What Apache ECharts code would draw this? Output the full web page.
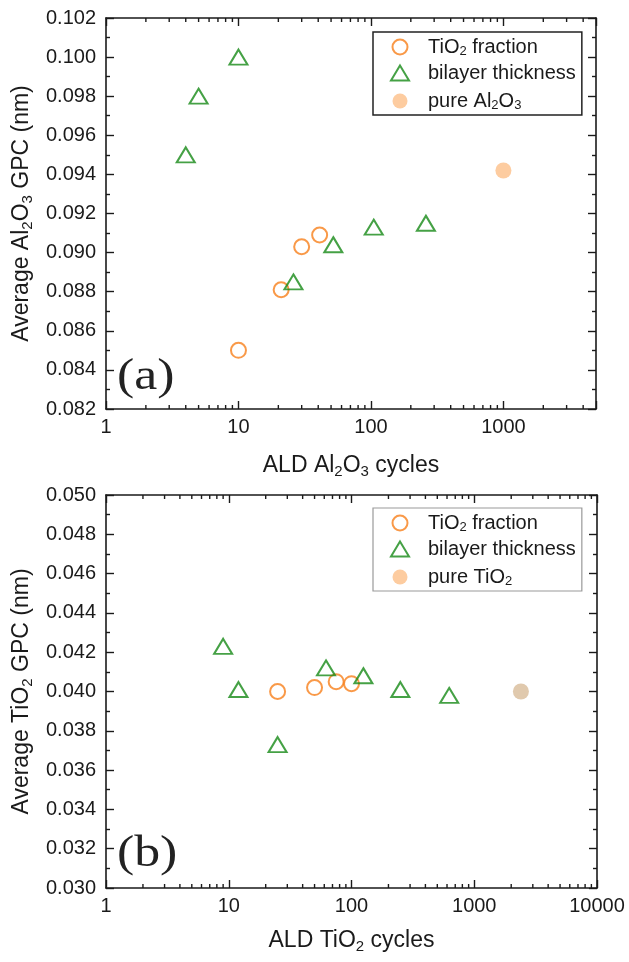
<!DOCTYPE html>
<html>
<head>
<meta charset="utf-8">
<script src="https://cdn.jsdelivr.net/npm/echarts@6/dist/echarts.min.js"></script>
<style>
  html, body { margin: 0; padding: 0; background: #fff; }
  #chart { width: 629px; height: 962px; }
</style>
</head>
<body>
<div id="chart"></div>
<script>
// Panel (a): average Al2O3 growth per cycle vs. number of ALD Al2O3 cycles
const alFracCycles = [10, 21, 30, 41];
const alFracGpc = [0.0850, 0.0881, 0.0903, 0.0909];
const alBilayerCycles = [4, 5, 10, 26, 52, 105, 260];
const alBilayerGpc = [0.0950, 0.0980, 0.1000, 0.0885, 0.0904, 0.0913, 0.0915];
const alPureCycles = [1000];
const alPureGpc = [0.0942];

// Panel (b): average TiO2 growth per cycle vs. number of ALD TiO2 cycles
const tiFracCycles = [25, 50, 75, 100];
const tiFracGpc = [0.0400, 0.0402, 0.0405, 0.0404];
const tiBilayerCycles = [9, 12, 25, 62, 125, 250, 625];
const tiBilayerGpc = [0.0423, 0.0401, 0.0373, 0.0412, 0.0408, 0.0401, 0.0398];
const tiPureCycles = [2400];
const tiPureGpc = [0.0400];

// Axis ranges
const xRangeA = [1, 5000];
const yRangeA = [0.082, 0.102];
const xRangeB = [1, 10000];
const yRangeB = [0.030, 0.050];
const yStep = 0.002;

const ORANGE = '#f7801a';
const GREEN = '#178a17';
const PEACH = '#fdbf88';
const TAN = '#d8bc99';
const INK = '#1a1a1a';
const SANS = "'Liberation Sans', Arial, sans-serif";
const SERIF = "'Liberation Serif', 'Times New Roman', serif";

const zip = (xs, ys) => xs.map((x, i) => [x, ys[i]]);
const isDecade = v => Math.abs(Math.log10(v) - Math.round(Math.log10(v))) < 1e-6;

// minor tick positions (2..9 in each decade) for the log axes
function minorTickValues(range) {
  const out = [];
  for (let d = range[0]; d < range[1]; d *= 10) {
    for (let k = 2; k <= 9; k++) {
      const v = k * d;
      if (v < range[1]) out.push(v);
    }
  }
  return out;
}

const subRich = {
  t: { fontSize: 23, fontFamily: SANS, color: INK, lineHeight: 26 },
  s: { fontSize: 15, fontFamily: SANS, color: INK, lineHeight: 15, padding: [12, 0, 0, 0], verticalAlign: 'bottom' }
};
const legendRich = {
  g: { width: 14 },
  t: { fontSize: 20, fontFamily: SANS, color: INK, lineHeight: 22 },
  s: { fontSize: 13, fontFamily: SANS, color: INK, lineHeight: 13, padding: [11, 0, 0, 0], verticalAlign: 'bottom' }
};

const legendLabels = {
  'TiO2 fraction': '{g|}{t|TiO}{s|2}{t| fraction}',
  'bilayer thickness': '{g|}{t|bilayer thickness}',
  'pure Al2O3': '{g|}{t|pure Al}{s|2}{t|O}{s|3}',
  'pure TiO2': '{g|}{t|pure TiO}{s|2}'
};

const lineStyle = { color: INK, width: 1.6 };
const tickStyle = { color: INK, width: 1.4 };

function xAxes(g, range, name, nameGap) {
  return [{
    type: 'log', gridIndex: g, min: range[0], max: range[1], position: 'bottom',
    axisLine: { show: true, onZero: false, lineStyle },
    axisTick: { show: true, inside: true, length: 8, lineStyle: tickStyle },
    axisLabel: {
      show: true, margin: 8, color: INK, fontSize: 20, fontFamily: SANS,
      formatter: v => isDecade(v) ? String(Math.round(v)) : ''
    },
    splitLine: { show: false },
    name, nameLocation: 'middle', nameGap,
    nameTextStyle: { rich: subRich, fontSize: 23, fontFamily: SANS, color: INK }
  }, {
    type: 'log', gridIndex: g, min: range[0], max: range[1], position: 'top',
    axisLine: { show: true, onZero: false, lineStyle },
    axisTick: { show: true, inside: true, length: 8, lineStyle: tickStyle },
    axisLabel: { show: false },
    splitLine: { show: false }
  }];
}

function yAxes(g, range, name) {
  const common = {
    type: 'value', gridIndex: g, min: range[0], max: range[1], interval: yStep,
    axisLine: { show: true, onZero: false, lineStyle },
    axisTick: { show: true, inside: true, length: 8, lineStyle: tickStyle },
    minorTick: { show: true, splitNumber: 2, length: 4, lineStyle: tickStyle },
    splitLine: { show: false },
    minorSplitLine: { show: false }
  };
  return [Object.assign({}, common, {
    position: 'left',
    axisLabel: { show: true, margin: 10, color: INK, fontSize: 20, fontFamily: SANS, formatter: v => v.toFixed(3) },
    name, nameLocation: 'middle', nameGap: 68, nameRotate: 90,
    nameTextStyle: { rich: subRich, fontSize: 23, fontFamily: SANS, color: INK }
  }), Object.assign({}, common, {
    position: 'right',
    axisLabel: { show: false }
  })];
}

function minorTickSeries(xi, yi, range, yMin) {
  return {
    type: 'custom', xAxisIndex: xi, yAxisIndex: yi, silent: true, clip: false, z: 5,
    data: minorTickValues(range).map(v => [v, yMin]),
    renderItem(params, api) {
      const cs = params.coordSys;
      const x = api.coord([api.value(0), api.value(1)])[0];
      const len = 4;
      const yb = cs.y + cs.height, yt = cs.y;
      return {
        type: 'group',
        children: [
          { type: 'line', shape: { x1: x, y1: yb, x2: x, y2: yb - len }, style: { stroke: INK, lineWidth: 1.4 } },
          { type: 'line', shape: { x1: x, y1: yt, x2: x, y2: yt + len }, style: { stroke: INK, lineWidth: 1.4 } }
        ]
      };
    }
  };
}

function hollowCircles(name, xi, yi, pts) {
  return {
    name, type: 'scatter', xAxisIndex: xi, yAxisIndex: yi, data: pts,
    symbol: 'circle', symbolSize: 15, z: 10,
    itemStyle: { color: 'rgba(255,255,255,0)', borderColor: ORANGE, borderWidth: 2 }
  };
}
function hollowTriangles(name, xi, yi, pts) {
  return {
    name, type: 'scatter', xAxisIndex: xi, yAxisIndex: yi, data: pts,
    symbol: 'triangle', symbolSize: [18, 15], z: 10,
    itemStyle: { color: 'rgba(255,255,255,0)', borderColor: GREEN, borderWidth: 2 }
  };
}
function filledCircles(name, xi, yi, pts, fill) {
  return {
    name, type: 'scatter', xAxisIndex: xi, yAxisIndex: yi,
    data: pts.map(p => ({ value: p, itemStyle: { color: fill } })),
    symbol: 'circle', symbolSize: 16, z: 10,
    itemStyle: { color: PEACH, borderWidth: 0 }
  };
}

function legendFor(top, names, border, borderWidth) {
  return {
    show: true, orient: 'vertical', left: 373, top,
    padding: [2, 6, 3, 17], itemGap: 5, itemWidth: 18, itemHeight: 15,
    borderColor: border, borderWidth, backgroundColor: '#fff',
    data: names,
    formatter: n => legendLabels[n] || n,
    textStyle: { rich: legendRich, fontSize: 20, fontFamily: SANS, color: INK },
    selectedMode: false
  };
}

const option = {
  backgroundColor: '#fff',
  animation: false,
  grid: [
    { left: 106, top: 18, width: 490, height: 391, outerBoundsMode: 'none' },
    { left: 106, top: 495, width: 491, height: 393, outerBoundsMode: 'none' }
  ],
  xAxis: [
    ...xAxes(0, xRangeA, '{t|ALD Al}{s|2}{t|O}{s|3}{t| cycles}', 44),
    ...xAxes(1, xRangeB, '{t|ALD TiO}{s|2}{t| cycles}', 40)
  ],
  yAxis: [
    ...yAxes(0, yRangeA, '{t|Average Al}{s|2}{t|O}{s|3}{t| GPC (nm)}'),
    ...yAxes(1, yRangeB, '{t|Average TiO}{s|2}{t| GPC (nm)}')
  ],
  legend: [
    legendFor(32, ['TiO2 fraction', 'bilayer thickness', 'pure Al2O3'], '#222', 1.5),
    legendFor(508, ['TiO2 fraction', 'bilayer thickness', 'pure TiO2'], '#9a9a9a', 1.2)
  ],
  graphic: [
    { type: 'text', left: 117, top: 355, scaleX: 1.15, style: { text: '(a)', font: '45px ' + SERIF, fill: '#222' } },
    { type: 'text', left: 117, top: 832, scaleX: 1.15, style: { text: '(b)', font: '45px ' + SERIF, fill: '#222' } }
  ],
  series: [
    minorTickSeries(0, 0, xRangeA, yRangeA[0]),
    minorTickSeries(2, 2, xRangeB, yRangeB[0]),
    hollowCircles('TiO2 fraction', 0, 0, zip(alFracCycles, alFracGpc)),
    hollowTriangles('bilayer thickness', 0, 0, zip(alBilayerCycles, alBilayerGpc)),
    filledCircles('pure Al2O3', 0, 0, zip(alPureCycles, alPureGpc), PEACH),
    hollowCircles('TiO2 fraction', 2, 2, zip(tiFracCycles, tiFracGpc)),
    hollowTriangles('bilayer thickness', 2, 2, zip(tiBilayerCycles, tiBilayerGpc)),
    filledCircles('pure TiO2', 2, 2, zip(tiPureCycles, tiPureGpc), TAN)
  ]
};

const chart = echarts.init(document.getElementById('chart'), null, { renderer: 'canvas' });
chart.setOption(option);
</script>
</body>
</html>
